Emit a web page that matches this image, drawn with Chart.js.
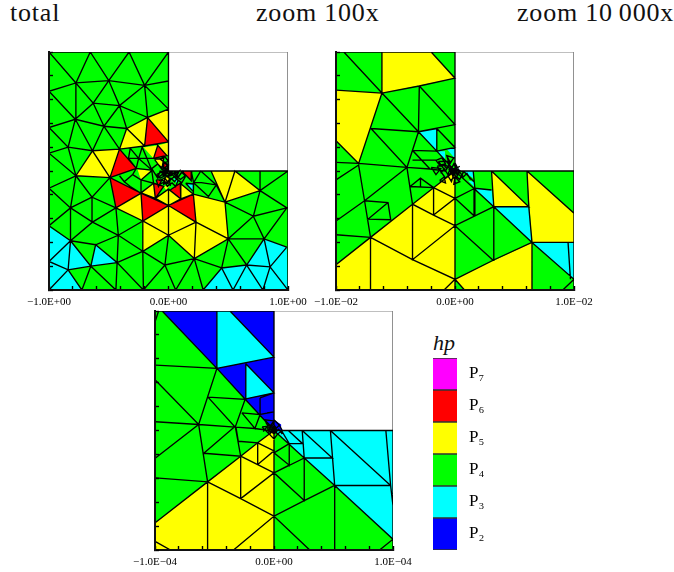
<!DOCTYPE html>
<html>
<head>
<meta charset="utf-8">
<script src="https://cdn.jsdelivr.net/npm/chart.js@4"></script>
<style>
body { margin: 0; background: #fff; }
#page { position: relative; width: 674px; height: 572px; overflow: hidden; }
canvas { position: absolute; }
.head { position: absolute; font-family: "Liberation Serif", serif; font-size: 26px; line-height: 26px; letter-spacing: 0.8px; white-space: pre; color: #111; }
</style>
</head>
<body>
<div id="page">
<div class="head" style="left:10px;top:0">total</div>
<div class="head" style="left:256px;top:0">zoom 100x</div>
<div class="head" style="left:517px;top:0">zoom 10&#8201;000x</div>
<div class="head" style="left:433px;top:330px;font-size:22px;font-style:italic;letter-spacing:0">hp</div>
<canvas id="total" width="320" height="270" style="left:0;top:40px"></canvas>
<canvas id="zoom100" width="300" height="270" style="left:300px;top:40px"></canvas>
<canvas id="zoom10000" width="300" height="270" style="left:120px;top:300px"></canvas>
<canvas id="key" width="100" height="220" style="left:425px;top:345px"></canvas>
</div>
<script>
// mesh vertices are in percent of the half width of each panel
const domain = [[-100,100,0,100,0,0,100,0,100,-100,-100,-100]];
const cutFrame = [0,100,100,100,100,0];
const outline = [-100,100,0,100,0,0,100,0,100,-100];

const totalP3 = [
    [-100,-47,-82,-58.6,-84,-83,-100,-76],
    [-100,-76,-84,-83,-72.5,-100,-100,-100],
    [-82,-58.6,-65,-80,-84,-83],
    [-61,-62,-43,-77,-65,-80],
    [29,-100,44.5,-81.5,65.4,-79,80,-57,99,-64,100,-100],
    [14.4,-10.3,20.8,-10.9,20.8,-17.3],
    [4,-6,7,-7,7,-10]
];
const totalP5 = [
    [-17.5,45,-35,35.7,-41,18.4,-20,21],
    [0,52,-17.5,45,0,24.5],
    [-63.6,17,-41,18.4,-49,-5.6,-77.5,-4],
    [-44,-31,-23,-18.7,-21.5,-42],
    [-21.5,-42,0,-29,0,-54,-21.5,-67.5],
    [0,-29,23,-43,21.6,-73.6,0,-54],
    [23,-43,50,-57,21.6,-73.6],
    [20.8,-19.5,47.3,-26.2,50,-57,23,-43],
    [35.6,0,55.6,0,76.6,-16.5,47.3,-26.2],
    [-21,20,-9,21.5,-12.5,10.6],
    [-9,21.5,0,24,0,14,-1.4,13],
    [-11.7,9.8,-4,10.6,-5.6,1.4],
    [-26,1.4,-14,0.3,-23,-7.5],
    [-11,-23,0,-15.3,0,-29],
    [0,-15.3,10.3,-23.4,0,-29],
    [-23,-18.4,-12.5,-10.3,-11,-23],
    [10,-10.3,20.8,-19.5,10.5,-23.7],
    [-5.6,-7.5,0,-3.3,1.4,-11.7],
    [-4,-13,1.4,-11.7,-2,-16]
];
const totalP6 = [
    [-17.5,45,0,24.5,-20,21],
    [-41,18.4,-27,2.2,-49,-5.6],
    [-49,-5.6,-23,-18.7,-44,-31],
    [-23,-18.7,0,-29,-21.5,-42],
    [0,-29,20.8,-19.5,23,-43],
    [-9,21.5,-1.4,13,-12.5,10.6],
    [-4,8,0,5,-4,2.2],
    [-12.5,-10.3,-4,-13,-11,-23],
    [1.4,-16,9.8,-10.3,10.3,-23.4],
    [11,0,19.5,0,19,-8],
    [-10.3,-7.5,-5.6,-7.5,-8.4,-13]
];
const totalEdges = [
    [-100,100,-77.5,74,-65.5,100,-50,76,-33,100,-20,72,0,100],
    [-77.5,74,-50,76,-20,72,0,75.6],
    [-100,67,-77.5,74,-63,57,-50,76,-41,55,-20,72,0,52],
    [-20,72,-17.5,45,0,52],
    [-100,67,-78,43.5,-77.5,74],
    [-78,43.5,-63,57,-41,55,-17.5,45,0,24.5],
    [-63,57,-54,37.6,-41,55,-35,35.7,-17.5,45],
    [-100,36.5,-78,43.5,-54,37.6,-35,35.7,-20,21,-17.5,45],
    [-100,36.5,-84,20,-78,43.5,-63.6,17,-54,37.6,-41,18.4,-35,35.7],
    [-100,15,-84,20,-63.6,17,-41,18.4,-20,21,0,24.5],
    [-84,20,-77.5,-4,-63.6,17,-49,-5.6],
    [-100,-14.5,-77.5,-4,-100,15],
    [-77.5,-4,-49,-5.6,-41,18.4,-27,2.2,-49,-5.6,-23,-18.7,-44,-31,-49,-5.6],
    [-100,-14.5,-82,-31,-77.5,-4,-64,-22,-49,-5.6],
    [-64,-22,-82,-31,-100,-46],
    [-82,-31,-82,-58.6,-100,-46],
    [-82,-31,-63.6,-43,-64,-22,-44,-31,-63.6,-43,-82,-58.6,-100,-76],
    [-63.6,-43,-42,-54,-44,-31],
    [-82,-58.6,-61,-62,-42,-54,-21.5,-42,-44,-31],
    [-42,-54,-21.5,-67.5,-21.5,-42,0,-54,-21.5,-67.5],
    [-82,-58.6,-84,-83,-100,-76],
    [-82,-58.6,-65,-80,-61,-62,-43,-77,-42,-54],
    [-100,-100,-84,-83,-65,-80,-43,-77,-21.5,-67.5,-3,-79,0,-54],
    [-84,-83,-72.5,-100,-65,-80,-44,-100,-43,-77,-21,-100,-21.5,-67.5],
    [-21,-100,-3,-79,6,-100],
    [-44,-31,-23,-18.7,-21.5,-42,0,-29,-23,-18.7],
    [0,-29,0,-54],
    [0,-29,20.8,-19.5,23,-43,0,-29],
    [0,-54,23,-43,21.6,-73.6,0,-54],
    [23,-43,50,-57,21.6,-73.6],
    [20.8,-19.5,47.3,-26.2,50,-57,71,-38,47.3,-26.2,76.6,-16.5,100,0],
    [47.3,-26.2,35.6,0],
    [47.3,-26.2,55.6,0,76.6,-16.5,76.6,0],
    [76.6,-16.5,99,-31,71,-38,76.6,-16.5],
    [71,-38,80,-57,99,-31],
    [50,-57,80,-57,99,-64],
    [50,-57,44.5,-81.5,21.6,-73.6],
    [21.6,-73.6,29,-100,44.5,-81.5,54,-100,65.4,-79,79,-100,85,-80.6,100,-100],
    [21.6,-73.6,6,-100],
    [21.6,-73.6,-3,-79],
    [44.5,-81.5,65.4,-79,85,-80.6,99,-64],
    [50,-57,65.4,-79,80,-57,85,-80.6],
    // refinement towards the corner
    [-32,19,-33.5,10.6,-25,10.6,-32,19],
    [-25,10.6,-22,20,-18,10.6,-25,10.6,-14,0.8,-27,2.2,-25,10.6],
    [-33.5,10.6,-27,2.2],
    [-18,10.6,-14,0.8],
    [-18,10.6,-12.5,10.6,-9,21.5,-1.4,13,-12.5,10.6],
    [-41,-4,-37,-9,-30,-3,-27,2.2],
    [-30,-3,-23,-7.5,-23,-18.7],
    [-37,-9,-32,-13,-23,-18.7],
    [-23,-7.5,-14,0.3,-12.5,-10.3,-23,-7.5],
    [-23,-18.4,-12.5,-10.3,-11,-23,-23,-18.4],
    [-11,-23,0,-15.3,10.3,-23.4,0,-29,-11,-23],
    [-12.5,-10.3,-4,-13,-11,-23],
    [0,-15.3,0,-29],
    [1.4,-16,9.8,-10.3,10.3,-23.4],
    [9.8,-10.3,20.8,-19.5,10.3,-23.4],
    [11,0,19.5,0,19,-8,11,0],
    [19,0,21,-9.8,27,0,40,-11.7,47.3,-26.2],
    [21,-9.8,27.5,-9.8,40,-11.7,33.4,-21.5,21,-9.8,20.8,-19.5],
    [14.4,-10.3,20.8,-10.9],
    [14.4,-10.3,20.8,-17.3],
    [-11.7,9.8,-4,10.6,-5.6,1.4,-11.7,9.8],
    [-4,8,0,5,-4,2.2,-4,8],
    [-5.6,-7.5,0,-3.3,1.4,-11.7,-5.6,-7.5],
    [-10.3,-7.5,-5.6,-7.5,-8.4,-13,-10.3,-7.5],
    [-14,2,-9,-6,-3,-1,-9,6,-14,2],
    [-9,-6,-7,0,-3,-1,-6,3,-9,6],
    [-5,-4,-2,0,-4,3,-1,2,0,0,-2,-2,-5,-4],
    [-5,-1,-1,-5,3,-3,0,0,4,0,2,-2,6,-2,9,0,6,-6,3,-3],
    [-3,-6,-1,-9,2,-6,5,-9,9,-4,12,0,14,-5,11,-10,6,-6],
    [-8,-8,-3,-6,-4,-11,1,-9,2,-6],
    [0,0,-1,4,-3,7,0,8],
    [-6,3,-3,7,-7,10,-3,12,0,8],
    [-4,0,-2,2,-1,0,-2,-1,-4,0],
    [0,0,2,-1,1,-3,-1,-2,0,0],
    [-3,1,-1,1,-1,-1,-3,-1,-3,1],
    [1,0,3,0,3,-2,1,-2,1,0],
    [-2,0,2,-4,5,-1,8,-5,11,-1,14,-4,10,-7,6,-4,2,-7,-2,-4,-2,0],
    [-10,-3,-6,-1,-3,-4,-7,-6,-10,-3],
    [4,-2,6,-4,8,-2,6,-1,4,-2],
    [-7,-11,-3,-9,-1,-13,3,-10,6,-13,8,-8],
    outline
];

const zoom100P3 = [
    [-30,33,-15.3,35.7,-15.3,16.7],
    [-15.3,16.7,-8.4,16.7,-8.4,9.2],
    [-7,18.4,0,19,0,10.6],
    [32.6,-30,62,-30,64.7,-60],
    [64.7,-60,100,-60,100,-91],
    [16.7,-14.5,30.7,-16,32.6,-30],
    [11,-8,16,-9,16,-13],
    [7,0,15.3,0,15.3,-6],
    [1.5,2,3.5,2,3.5,0.5]
];
const zoom100P5 = [
    [-61.4,100,-20,100,0,78,-61.4,65.5],
    [-100,68,-61.4,65.5,-81,6.4,-100,25.4],
    [-100,-78.7,-71,-55.8,-35.7,-27.9,-18,-14,0,0,0,-100,-100,-100],
    [30.7,0,62,-30,32.6,-30],
    [60.5,0,100,-35.4,100,-60,64.7,-60],
    [0,-91,64.7,-60,64.7,-100,8,-100]
];
const zoom100Edges = [
    [-93.4,100,-61.4,65.5,-30.7,33,-15.3,16.7,0,0],
    [-61.4,100,-61.4,65.5],
    [-20,100,0,78,-30,71.4,-61.4,65.5,-100,68],
    [-61.4,65.5,-81,6.4,-100,25.4],
    [-30,71.4,-30.7,33,0,39,-30,71.4],
    [-70.6,35.7,-30.7,33],
    [-70.6,35.7,-40.4,3,-30.7,33],
    [-30.7,33,-15.3,35.7,-15.3,16.7,0,19.8,-15.3,35.7],
    [-30.7,33,-35.7,17.3,-15.3,16.7],
    [-40.4,3,-35.7,17.3,-21,1.7],
    [-35.7,9.2,-15,9.2],
    [-100,7.3,-81,6.4,-40.4,3,-21,1.7,-8,0],
    [-100,-7.5,-81,5,-76,-25,-71,-55.8],
    [-100,-42,-76,-25,-40.4,3],
    [-100,-53.6,-71,-55.8],
    [-76,-25,-56.3,-26.5,-54,-41,-73,-40.4,-56.3,-26.5],
    [-40.4,3,-35.7,-27.9,-18,-37,0,-46,-35.7,-74.5,-35.7,-27.9],
    [-37.7,-13,-18,-14,-18,-37],
    [-37.7,-13,-29,-6,-18,-14],
    [-29,-6,-29,-13],
    [-18,-14,0,-23,-18,-37],
    [-71,-55.8,-71,-100],
    [-71,-55.8,-35.7,-74.5,0,-91,-9.2,-100],
    [0,-91,8,-100],
    [-100,-78.7,-71,-55.8,-35.7,-27.9,-18,-14,0,0],
    [0,0,0,-100],
    [0,0,32.6,-30,64.7,-60,100,-91,90.6,-100],
    [30.7,0,32.6,-30,62,-30,30.7,0],
    [60.5,0,62,-30,64.7,-60,64.7,-100],
    [60.5,0,100,-35.4],
    [64.7,-60,100,-60],
    [95,-60,97,-91],
    [0,-91,32,-75,64.7,-60],
    [32,-75,32.6,-30,0,-46,32,-75],
    [0,-23,16,-37.7,16.7,-14.5,0,-23],
    [16,-37.7,16,-14],
    [16.7,-14.5,30.7,-16],
    [15.3,0,16.7,-14.5],
    [7,0,16,-9],
    [-14,8,-8,0,-3,8,-14,8],
    [-15,4,-8,-6,-2,0,-8,5,-15,4],
    [-7,13,-4,7,-1,11,-7,13,-4,3],
    [-6,-4,-3,-9,-1,-3,4,-7,7,-1,1,2,-1,-3],
    [-4,3,-1,0,-3,-2,-5,1,-4,3],
    [-2,2,0,0,-1,-2,-3,0,-2,2],
    [0,0,2,-2,4,0,1,2,0,0],
    [-1,5,2,3,0,7,-1,5],
    [-12,-2,-9,2,-6,-3,-4,2,-2,-4,0,1,2,-4,4,-1,7,-5,10,-2,13,-7],
    [-10,6,-7,2,-5,6,-3,2,-1,6,1,2,4,4],
    [-16,9,-11,11,-8,6,-13,5,-16,9],
    [-20,3,-16,-3,-12,2,-20,3],
    [-13,-8,-8,-10,-9,-5,-13,-8],
    [-4,-8,0,-5,-1,-11,4,-9,0,-5],
    [-3,-1,-1,-2,1,-1,2,1,0,2,-2,2,-3,-1],
    [-1.5,-1,1.5,-1,1.5,1,-1.5,1,-1.5,-1],
    [-1,-1,1,1],
    [-1,1,1,-1],
    [-0.5,-1.5,-0.5,1.5],
    [0.5,-1.5,0.5,1.5],
    outline
];

const zoom10000P2 = [
    [-94,100,-48,100,-48,52],
    [-37,100,0,100,0,61.4],
    [-48,52,0,61.4,0,0],
    [-5,8,0,8,0,1,1,0,6,0,6,5,0,9]
];
const zoom10000P3 = [
    [-48,100,-37,100,0,61.4,-48,52],
    [-23.7,55.8,0,31.5,-23.7,26.5],
    [0,0,100,0,100,-91]
];
const zoom10000P5 = [
    [-99.6,-77,-55.8,-43,-28,-21.5,-13.7,-10.3,0,0,0,-100,-100,-100]
];
const zoom10000Edges = [
    [-94,100,-48,52,-24,26,-12,13,0,0],
    [-48,100,-48,52,0,61.4,-37,100],
    [-23.7,55.8,-23.7,26.5,0,31.5,-23.7,55.8],
    [-99.6,54.7,-48,52,-63.3,5,-99.6,42],
    [-55.5,27.9,-24.3,26,-32.6,2.8,-55.5,27.9],
    [-99.6,7.3,-63.3,5,-32.6,2.8,-16,1.7,-4,0],
    [-27,14.8,-11.7,13.4,-16,1.7,-27,14.8],
    [-11.7,27.3,-11.7,13.4,0,15.6,-6,14.8],
    [-11.7,27.3,0,31.5],
    [-97,100,-99.6,92],
    [-99.6,-23,-63.3,5,-55.8,-43,-99.6,-39.6],
    [-59,-19,-28,-21.5,-32.6,3.6,-59,-19],
    [-30,-9,-13.7,-10.3,-13.7,-28.5,-28,-21.5,-28,-57,-55.8,-43,-55.8,-100],
    [-32,3,-30,-9],
    [-28,-57,0,-35.4,-13.7,-28.5,0,-17,-13.7,-10.3],
    [-28,-57,0,-71.7,-34,-100],
    [-99.6,-93,-87,-100],
    [-99.6,-77,-55.8,-43,-28,-21.5,-13.7,-10.3,0,0],
    [0,0,0,-100],
    [0,0,25.4,-23,51,-46,100,-91,88.7,-100],
    [47.4,0,51,-46,51,-100],
    [47.4,0,98,-46],
    [51,-46,98,-46,94,0],
    [98,-46,100,-63],
    [23.7,0,49,-23,25.4,-23,23.7,0],
    [25.4,-23,25.4,-58.6,0,-35.4,25.4,-23],
    [25.4,-58.6,51,-46],
    [25.4,-58.6,0,-71.7,30,-100],
    [6.3,0,12.8,-11,24,-11,12,0],
    [12.8,-11,12.8,-29,0,-18.7,12.8,-11],
    [12.8,-29,0,-35.4],
    [-8,9,-3,4,0,8,-8,9],
    [-10,3,-5,-2,-2,4,-10,3],
    [-5,-2,0,-7,3,-3,0,0],
    [0,9,4,5,7,0,3,-3],
    [-3,0,0,3,3,0,0,-3,-3,0],
    [-1.5,0,0,1.5,1.5,0,0,-1.5,-1.5,0],
    [-9,-1,-6,3,-3,-2,-1,3,1,-2,4,1,7,-3],
    [-7,7,-4,2,-1,6,2,2,5,5],
    outline
];

const keyLabels = ['P₇', 'P₆', 'P₅', 'P₄', 'P₃', 'P₂'];
const keyValues = [1, 1, 1, 1, 1, 1];
const keyColors = ['#ff00ff', '#ff0000', '#ffff00', '#00ff00', '#00ffff', '#0000ff'];

function toPoints(flat, range) {
    const points = [];
    for (let i = 0; i < flat.length; i += 2) {
        points.push({x: flat[i] * range / 100, y: flat[i + 1] * range / 100});
    }
    return points;
}

function patch(flat, color, range) {
    const points = toPoints(flat, range);
    points.push(points[0]);
    return {data: points, fill: 'shape', backgroundColor: color, borderWidth: 0, pointRadius: 0, tension: 0};
}

function stroke(list, color, width, range) {
    const points = [];
    list.forEach(function (flat) {
        points.push(...toPoints(flat, range));
        points.push({x: NaN, y: NaN});
    });
    return {data: points, fill: false, borderColor: color, borderWidth: width, pointRadius: 0, spanGaps: false, tension: 0};
}

function axis(range, labels, labelGap) {
    return {
        type: 'linear',
        min: -range,
        max: range,
        afterFit: function (scale) {
            if (scale.isHorizontal()) {
                scale.height = 20;
                scale.paddingLeft = 0;
                scale.paddingRight = 0;
            } else {
                scale.width = 0;
                scale.paddingTop = 0;
                scale.paddingBottom = 0;
            }
        },
        grid: {drawOnChartArea: false, tickLength: -4, tickWidth: 1.4, tickColor: '#000', z: 1},
        border: {color: '#111', width: 2, z: 1},
        ticks: {
            stepSize: range / 5,
            maxTicksLimit: 21,
            autoSkip: false,
            maxRotation: 0,
            padding: labelGap,
            color: '#000',
            font: {family: 'Liberation Serif', size: 11},
            callback: function (value, index) {
                return labels && index % 5 === 0 ? labels[index / 5] : '';
            }
        }
    };
}

function drawPanel(id, range, tickLabels, patches, edges, padding) {
    const datasets = [];
    domain.forEach(function (flat) { datasets.push(patch(flat, '#00ff00', range)); });
    patches.forEach(function (group) {
        group.list.forEach(function (flat) { datasets.push(patch(flat, group.color, range)); });
    });
    datasets.push(stroke([cutFrame], '#808080', 1, range));
    datasets.push(stroke(edges, '#000', 1.35, range));
    datasets.forEach(function (d, i) { d.order = datasets.length - i; });

    return new Chart(document.getElementById(id), {
        type: 'line',
        data: {datasets: datasets},
        options: {
            responsive: false,
            animation: false,
            devicePixelRatio: 1,
            layout: {padding: padding},
            plugins: {legend: {display: false}, tooltip: {enabled: false}},
            scales: {x: axis(range, tickLabels, 10), y: axis(range, null, 0)}
        }
    });
}

drawPanel('total', 1, ['−1.0E+00', '0.0E+00', '1.0E+00'],
    [{list: totalP3, color: '#00ffff'}, {list: totalP5, color: '#ffff00'}, {list: totalP6, color: '#ff0000'}],
    totalEdges, {left: 49, right: 32, top: 12, bottom: 0});

drawPanel('zoom100', 1e-2, ['−1.0E−02', '0.0E+00', '1.0E−02'],
    [{list: zoom100P3, color: '#00ffff'}, {list: zoom100P5, color: '#ffff00'}],
    zoom100Edges, {left: 36, right: 26, top: 12, bottom: 0});

drawPanel('zoom10000', 1e-4, ['−1.0E−04', '0.0E+00', '1.0E−04'],
    [{list: zoom10000P2, color: '#0000ff'}, {list: zoom10000P3, color: '#00ffff'}, {list: zoom10000P5, color: '#ffff00'}],
    zoom10000Edges, {left: 35, right: 27, top: 11, bottom: 0});

new Chart(document.getElementById('key'), {
    type: 'bar',
    data: {
        labels: keyLabels,
        datasets: [{
            data: keyValues,
            backgroundColor: keyColors,
            borderColor: '#333',
            borderWidth: {top: 1, bottom: 1, left: 0, right: 0},
            borderSkipped: false,
            barPercentage: 1,
            categoryPercentage: 1
        }]
    },
    options: {
        indexAxis: 'y',
        responsive: false,
        animation: false,
        devicePixelRatio: 1,
        layout: {padding: {left: 8, right: 8, top: 13, bottom: 15}},
        plugins: {legend: {display: false}, tooltip: {enabled: false}},
        scales: {
            x: {min: 0, max: 1, display: false},
            y: {
                position: 'right',
                afterFit: function (scale) {
                    scale.width = 60;
                    scale.paddingTop = 0;
                    scale.paddingBottom = 0;
                },
                grid: {display: false},
                border: {display: false},
                ticks: {
                    padding: 4,
                    color: '#000',
                    font: {family: 'Liberation Serif', size: 17}
                }
            }
        }
    }
});
</script>
</body>
</html>
